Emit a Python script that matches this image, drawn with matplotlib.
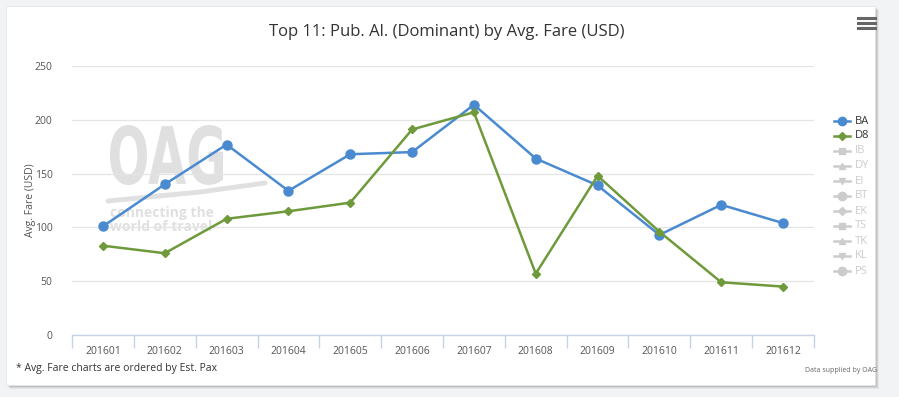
import numpy as np
import matplotlib
matplotlib.use("Agg")
import matplotlib.pyplot as plt
from matplotlib.patches import Rectangle, PathPatch
from matplotlib.lines import Line2D
from matplotlib.textpath import TextPath
from matplotlib.font_manager import FontProperties
from matplotlib.transforms import Affine2D

months = ["201601", "201602", "201603", "201604", "201605", "201606",
          "201607", "201608", "201609", "201610", "201611", "201612"]
ba_fare = [101, 140, 177, 134, 168, 170, 214, 164, 139, 93, 121, 104]
d8_fare = [83, 76, 108, 115, 123, 191, 207, 57, 148, 96, 49, 45]

legend_names = ["BA", "D8", "IB", "DY", "EI", "BT", "EK", "TS", "TK", "KL", "PS"]
legend_markers = ["o", "D", "s", "^", "v", "o", "D", "s", "^", "v", "o"]
yticks = [0, 50, 100, 150, 200, 250]

ba_color = "#4a8ad0"
d8_color = "#6e9a3b"
faded = "#cccccc"
wm = "#e0e0e0"

plt.rcParams['font.family'] = ['Open Sans', 'DejaVu Sans']

W, H = 899, 397
fig = plt.figure(figsize=(W / 100, H / 100), dpi=100)
fig.patch.set_facecolor("#f1f3f5")


def px(xp, yp):
    # pixel (from top-left) -> figure fraction
    return xp / W, 1 - yp / H


# card with shadow
for i, a in enumerate([0.05, 0.07, 0.09, 0.12]):
    off = 4 - i
    fig.add_artist(Rectangle(((6 + off) / W, 1 - (385 + off) / H), 869 / W, 379 / H,
                             transform=fig.transFigure, facecolor="#000000", alpha=a,
                             edgecolor="none", zorder=0))
fig.add_artist(Rectangle((6 / W, 1 - 385 / H), 869 / W, 379 / H, transform=fig.transFigure,
                         facecolor="white", edgecolor="#e3e6ea", lw=0.6, zorder=1))

# watermark: OAG squeezed into its box
tp = TextPath((0, 0), "OAG", size=100, prop=FontProperties(family="DejaVu Sans", weight="bold"))
ext = tp.get_extents()
x0, y0 = px(110, 185)
x1, y1 = px(223, 125)
tr = (Affine2D().translate(-ext.x0, -ext.y0)
      .scale((x1 - x0) / ext.width, (y1 - y0) / ext.height)
      .translate(x0, y0))
fig.add_artist(PathPatch(tr.transform_path(tp), transform=fig.transFigure,
                         facecolor=wm, edgecolor="none", zorder=1.5))
sx, sy = zip(px(108, 201), px(200, 192), px(265, 183))
fig.add_artist(Line2D(sx, sy, transform=fig.transFigure, color=wm, lw=3.5,
                      solid_capstyle="round", zorder=1.5))
fig.text(*px(110, 217), "connecting the", fontsize=10, color=wm, zorder=1.5,
         fontweight="bold", va="baseline")
fig.text(*px(110, 231), "world of travel", fontsize=10, color=wm, zorder=1.5,
         fontweight="bold", va="baseline")

ax = fig.add_axes([72 / W, 1 - 335 / H, 742 / W, 269 / H])
ax.set_zorder(2)
ax.patch.set_alpha(0)

x = np.arange(len(months))
ax.plot(x, ba_fare, color=ba_color, lw=1.8, marker="o", ms=6.5, zorder=4)
ax.plot(x, d8_fare, color=d8_color, lw=1.8, marker="D", ms=4.5, zorder=4)

ax.set_xlim(-0.5, len(months) - 0.5)
ax.set_ylim(0, 250)
ax.set_yticks(yticks)
ax.set_yticklabels([str(v) for v in yticks], fontsize=7.5, color="#555555")
ax.tick_params(axis="y", length=0, pad=14)
ax.yaxis.grid(True, color="#e4e4e4", lw=0.9)
ax.set_axisbelow(True)

ax.set_xticks(x)
ax.set_xticklabels(months, fontsize=7.5, color="#555555")
ax.tick_params(axis="x", length=0, pad=8)
ax.set_xticks(np.arange(len(months) + 1) - 0.5, minor=True)
ax.tick_params(axis="x", which="minor", length=9, color="#c6d3e6", width=1)

for s in ["top", "right", "left"]:
    ax.spines[s].set_visible(False)
ax.spines["bottom"].set_color("#c6d3e6")
ax.spines["bottom"].set_linewidth(1)

ax.set_ylabel("Avg. Fare (USD)", fontsize=7.5, color="#555555")
ax.yaxis.set_label_coords((36 - 72) / 742, 0.5)

# title
fig.text(*px(447, 32), "Top 11: Pub. Al. (Dominant) by Avg. Fare (USD)",
         fontsize=12, color="#333333", ha="center", va="center", zorder=3)

# hamburger menu
for yy in [18, 23, 28]:
    fig.add_artist(Line2D([858 / W, 875 / W], [1 - yy / H, 1 - yy / H], transform=fig.transFigure,
                          color="#666666", lw=2.2, zorder=3))

# legend
for i, (name, mk) in enumerate(zip(legend_names, legend_markers)):
    yy = 1 - (121 + i * 15) / H
    col = ba_color if i == 0 else (d8_color if i == 1 else faded)
    tcol = "#333333" if i < 2 else faded
    ms = 6 if mk == "o" else 4.5 if mk == "D" else 5
    fig.add_artist(Line2D([834 / W, 850 / W], [yy, yy], transform=fig.transFigure,
                          color=col, lw=1.8, zorder=3))
    fig.add_artist(Line2D([842 / W], [yy], transform=fig.transFigure, color=col,
                          marker=mk, ms=ms, lw=0, zorder=3))
    fig.text(855 / W, yy, name, fontsize=8, color=tcol, va="center", ha="left", zorder=3)

# footnotes
fig.text(*px(16, 368), "* Avg. Fare charts are ordered by Est. Pax", fontsize=7.5,
         color="#333333", va="center", zorder=3)
fig.text(*px(877, 371), "Data supplied by OAG", fontsize=5, color="#666666",
         va="center", ha="right", zorder=3)

fig.savefig("out.png", dpi=100, facecolor=fig.get_facecolor())
